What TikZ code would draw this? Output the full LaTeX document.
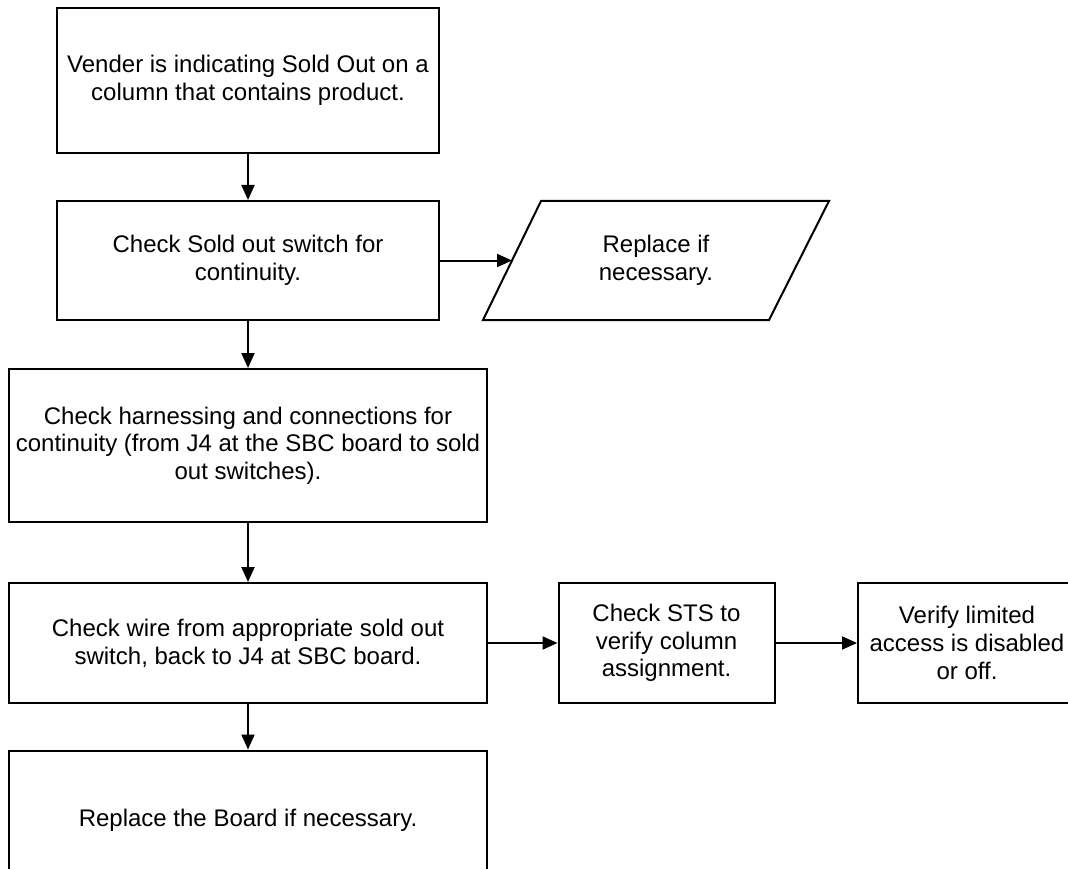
\documentclass[tikz,border=0pt]{standalone}
\usepackage{fontspec}
\setmainfont{Liberation Sans}
\usetikzlibrary{arrows.meta}
\begin{document}
\begin{tikzpicture}[x=1pt,y=-1pt,
  every node/.style={font=\fontsize{24}{27.7}\selectfont},
  box/.style={draw=black, line width=2pt, rectangle, align=center, inner sep=0pt},
  conn/.style={line width=2pt, -{Triangle[length=15pt,width=13pt]}},
  shapeline/.style={draw=black, line width=2pt, line join=miter}]
\useasboundingbox (0,0) rectangle (1068,869);
\begin{scope}
\clip (0,0) rectangle (1068,869);
\node[box, minimum width=382pt, minimum height=145pt] (b1) at (248,80.5)
  {Vender is indicating Sold Out on a\\column that contains product.};
\node[box, minimum width=382pt, minimum height=119pt] (b2) at (248,260.5)
  {Check Sold out switch for\\continuity.};
\node[box, minimum width=478pt, minimum height=153pt] (b3) at (248,445.5)
  {Check harnessing and connections for\\continuity (from J4 at the SBC board to sold\\out switches).};
\node[box, minimum width=478pt, minimum height=120pt] (b4) at (248,643)
  {Check wire from appropriate sold out\\switch, back to J4 at SBC board.};
\node[box, minimum width=216pt, minimum height=120pt] (b5) at (666.5,643)
  {Check STS to\\verify column\\assignment.};
\node[box, minimum width=218pt, minimum height=120pt] (b6) at (967,643)
  {Verify limited\\access is disabled\\or off.};
\node[box, minimum width=478pt, minimum height=139pt] (b7) at (248,820)
  {Replace the Board if necessary.};
% parallelogram
\coordinate (p1) at (541,201);
\coordinate (p2) at (829,201);
\coordinate (p3) at (769,320);
\coordinate (p4) at (483,320);
\draw[shapeline] (p1) -- (p2) -- (p3) -- (p4) -- cycle;
\node[align=center, inner sep=0pt] (par) at (656,260.5) {Replace if\\necessary.};
\coordinate (parin) at (512,260.5);
% connectors
\draw[conn] (b1.south) -- (b2.north);
\draw[conn] (b2.east) -- (parin);
\draw[conn] (b2.south) -- (b3.north);
\draw[conn] (b3.south) -- (b4.north);
\draw[conn] (b4.east) -- (b5.west);
\draw[conn] (b5.east) -- (b6.west);
\draw[conn] (b4.south) -- (b7.north);
\end{scope}
\end{tikzpicture}
\end{document}
